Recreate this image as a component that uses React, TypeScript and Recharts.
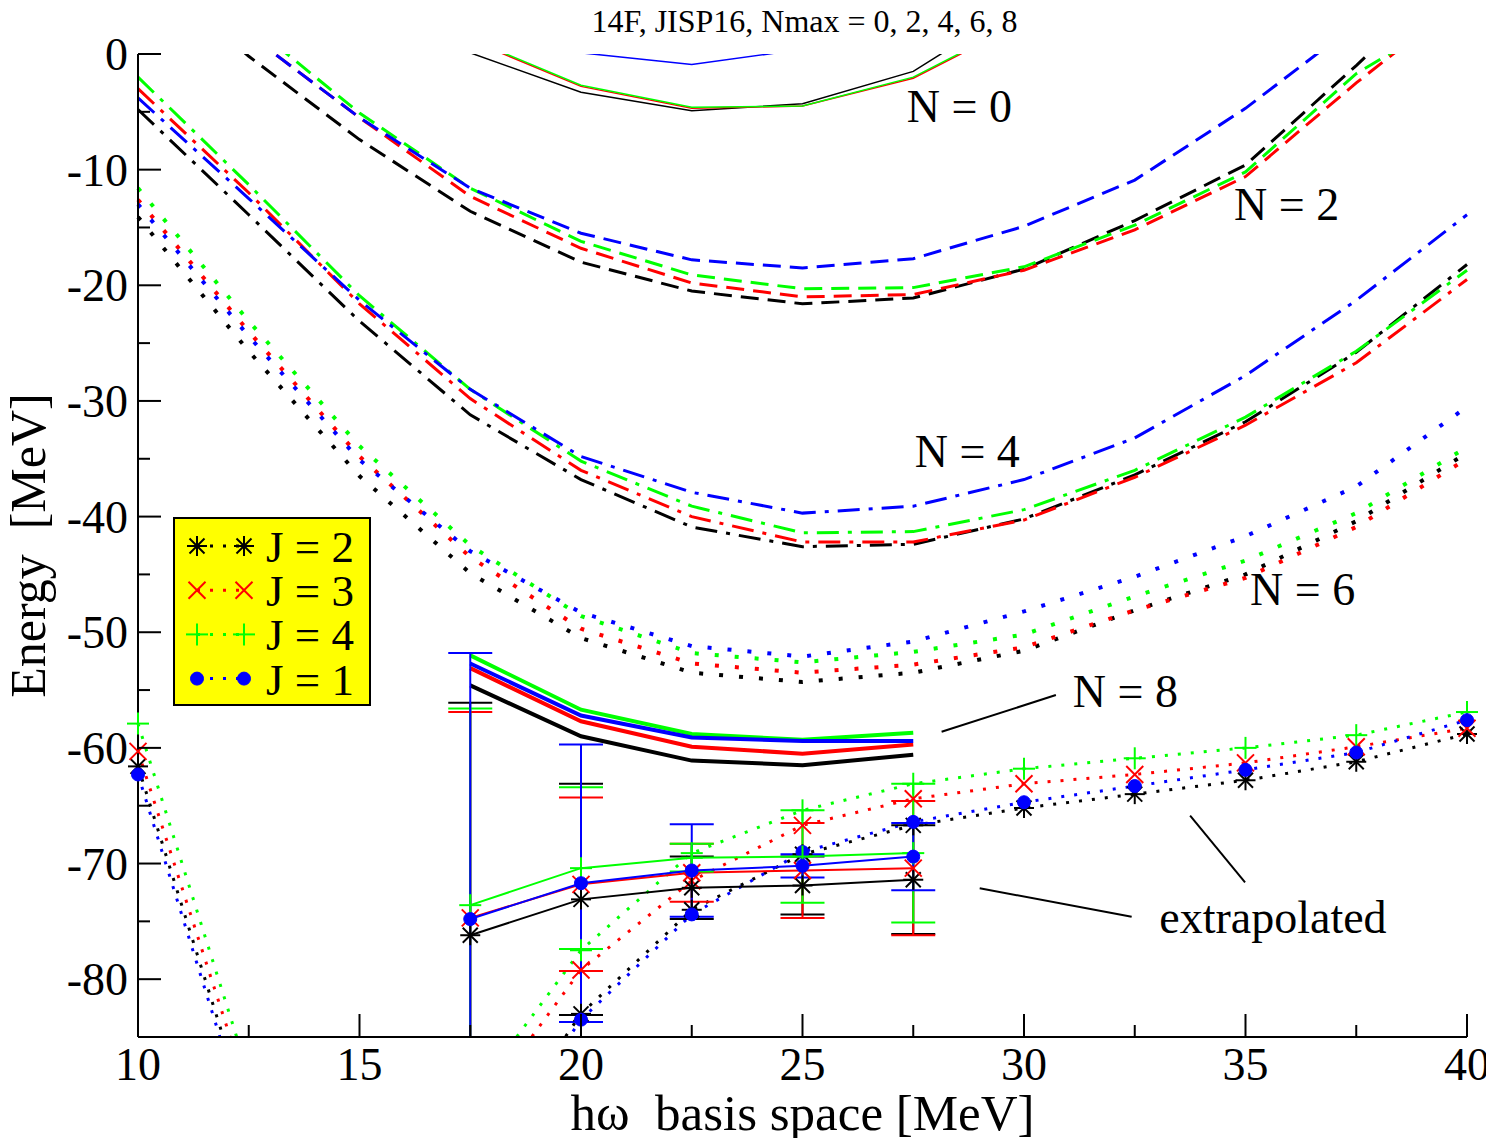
import React from 'react';
import {
  LineChart,
  Line,
  XAxis,
  YAxis,
  ErrorBar,
  ReferenceLine,
  ReferenceDot,
  Legend,
  Customized,
} from 'recharts';

type V = number | null;
const _ = null;

const SERIF = '"Liberation Serif", "Times New Roman", serif';

// hbar-omega grid (MeV)
const hw = [10, 12.5, 15, 17.5, 20, 22.5, 25, 27.5, 30, 32.5, 35, 37.5, 40];
const xTicks = [10, 12.5, 15, 17.5, 20, 22.5, 25, 27.5, 30, 32.5, 35, 37.5, 40];
const yTicks = [-80, -75, -70, -65, -60, -55, -50, -45, -40, -35, -30, -25, -20, -15, -10, -5, 0];

// Nmax = 0
const n0J2: V[] = [_, _, _, 0.1, -3.3, -4.9, -4.3, -1.5, 4.5, _, _, _, _];
const n0J3: V[] = [_, _, _, 1.2, -2.8, -4.7, -4.5, -2.1, 2.8, _, _, _, _];
const n0J4: V[] = [_, _, _, 1.3, -2.7, -4.6, -4.5, -2.0, 2.9, _, _, _, _];
const n0J1: V[] = [_, _, _, 4.0, 0.1, -0.9, 0.4, 4.0, _, _, _, _, _];

// Nmax = 2
const n2J2: V[] = [8.0, -0.2, -7.4, -13.6, -18.0, -20.5, -21.6, -21.1, -18.6, -14.4, -9.6, -1.0, 8.0];
const n2J3: V[] = [11.0, 1.7, -5.5, -12.3, -16.8, -19.8, -21.0, -20.8, -18.7, -15.2, -10.6, -2.5, 5.0];
const n2J4: V[] = [12.0, 2.7, -5.1, -11.6, -16.2, -19.1, -20.3, -20.2, -18.4, -14.8, -10.2, -1.7, 4.0];
const n2J1: V[] = [11.0, 1.7, -5.5, -11.6, -15.5, -17.8, -18.5, -17.7, -14.9, -10.9, -4.7, 2.6, 10.0];

// Nmax = 4
const n4J2: V[] = [-4.8, -13.9, -23.1, -31.2, -36.8, -40.9, -42.6, -42.4, -40.2, -36.4, -31.8, -25.8, -18.2];
const n4J3: V[] = [-3.0, -12.0, -21.6, -29.8, -36.0, -40.0, -42.2, -42.2, -40.3, -36.6, -32.1, -26.7, -19.5];
const n4J4: V[] = [-2.0, -11.3, -20.9, -29.0, -35.2, -39.1, -41.4, -41.3, -39.4, -36.0, -31.4, -25.7, -18.7];
const n4J1: V[] = [-3.8, -12.5, -21.3, -29.0, -34.8, -37.9, -39.7, -39.1, -36.8, -33.2, -27.8, -21.3, -13.9];

// Nmax = 6
const n6J2: V[] = [-14.1, -25.7, -36.5, -44.9, -50.5, -53.5, -54.3, -53.5, -51.6, -48.1, -45.0, -40.4, -34.5];
const n6J3: V[] = [-12.6, -24.0, -34.8, -43.5, -49.7, -52.7, -53.5, -52.8, -51.3, -48.1, -45.3, -40.9, -35.0];
const n6J4: V[] = [-11.6, -23.1, -33.9, -42.5, -48.6, -51.8, -52.6, -51.7, -50.2, -46.9, -43.8, -39.7, -34.0];
const n6J1: V[] = [-13.0, -24.4, -35.1, -43.0, -48.3, -51.2, -52.1, -50.8, -48.2, -45.2, -41.7, -37.4, -30.5];

// Nmax = 8
const n8J2: V[] = [_, _, _, -54.6, -59.0, -61.1, -61.5, -60.6, _, _, _, _, _];
const n8J3: V[] = [_, _, _, -53.1, -57.7, -59.9, -60.5, -59.7, _, _, _, _, _];
const n8J4: V[] = [_, _, _, -52.0, -56.7, -58.8, -59.3, -58.7, _, _, _, _, _];
const n8J1: V[] = [_, _, _, -52.7, -57.2, -59.1, -59.4, -59.4, _, _, _, _, _];

// extrapolated (solid, with error bars)
const exSJ2: V[] = [_, _, _, -76.2, -73.1, -72.1, -71.9, -71.4, _, _, _, _, _];
const exSJ3: V[] = [_, _, _, -74.7, -71.8, -70.8, -70.6, -70.4, _, _, _, _, _];
const exSJ4: V[] = [_, _, _, -73.6, -70.4, -69.5, -69.4, -69.1, _, _, _, _, _];
const exSJ1: V[] = [_, _, _, -74.8, -71.7, -70.6, -70.2, -69.4, _, _, _, _, _];
const errJ2: V[] = [_, _, _, 20.1, 10.0, 2.7, 2.5, 4.7, _, _, _, _, _];
const errJ3: V[] = [_, _, _, 17.8, 7.5, 2.5, 4.1, 5.8, _, _, _, _, _];
const errJ4: V[] = [_, _, _, 17.0, 7.0, 1.2, 4.0, 6.0, _, _, _, _, _];
const errJ1: V[] = [_, _, _, 23.0, 12.0, 4.0, 1.0, 2.9, _, _, _, _, _];

// extrapolated (dotted)
const exDJ2: V[] = [-61.6, -92.0, _, -97.0, -83.0, -74.0, -69.2, -66.7, -65.2, -64.0, -62.8, -61.2, -58.8];
const exDJ3: V[] = [-60.3, -90.0, _, -92.2, -79.2, -71.5, -66.7, -64.4, -63.1, -62.3, -61.3, -59.9, -58.3];
const exDJ4: V[] = [-57.9, -88.3, _, -90.4, -77.5, -69.1, -65.4, -63.1, -61.8, -60.9, -60.0, -58.9, -56.9];
const exDJ1: V[] = [-62.3, -93.0, _, -97.5, -83.5, -74.4, -69.0, -66.4, -64.7, -63.3, -61.9, -60.4, -57.6];

const series: Record<string, V[]> = {
  n0J2, n0J3, n0J4, n0J1,
  n2J2, n2J3, n2J4, n2J1,
  n4J2, n4J3, n4J4, n4J1,
  n6J2, n6J3, n6J4, n6J1,
  n8J2, n8J3, n8J4, n8J1,
  exSJ2, exSJ3, exSJ4, exSJ1,
  errJ2, errJ3, errJ4, errJ1,
  exDJ2, exDJ3, exDJ4, exDJ1,
};

const Y_MIN = -85;
const Y_MAX = 0;

const data = hw.map((x, i) => {
  const row: Record<string, V> = { hw: x };
  Object.keys(series).forEach((k) => {
    const v = series[k][i];
    row[k] = v;
    // marker copies only inside the frame (markers are drawn unclipped)
    row['mk_' + k] = v != null && v >= Y_MIN && v <= Y_MAX ? v : null;
  });
  return row;
});

const jStates = [
  { id: 'J2', label: 'J = 2', color: '#000000', marker: 'star' },
  { id: 'J3', label: 'J = 3', color: '#ff0000', marker: 'cross' },
  { id: 'J4', label: 'J = 4', color: '#00ff00', marker: 'plus' },
  { id: 'J1', label: 'J = 1', color: '#0000ff', marker: 'circle' },
];

const groups = [
  { prefix: 'n6', width: 4, dash: '4 16' },
  { prefix: 'n4', width: 3, dash: '22 9 4 9' },
  { prefix: 'n2', width: 3, dash: '18 9' },
  { prefix: 'n0', width: 1.5, dash: undefined },
  { prefix: 'n8', width: 4, dash: undefined },
  { prefix: 'exD', width: 3, dash: '3 10' },
  { prefix: 'exS', width: 2, dash: undefined, err: true },
];

const notes = [
  { text: 'N = 0', x: 28.54, y: -4.44 },
  { text: 'N = 2', x: 35.93, y: -12.94 },
  { text: 'N = 4', x: 28.72, y: -34.33 },
  { text: 'N = 6', x: 36.29, y: -46.23 },
  { text: 'N = 8', x: 32.29, y: -55.03 },
  { text: 'extrapolated', x: 35.62, y: -74.6 },
];

const pointers = [
  [{ x: 28.14, y: -58.6 }, { x: 30.72, y: -55.43 }],
  [{ x: 29.0, y: -72.14 }, { x: 32.43, y: -74.6 }],
  [{ x: 33.75, y: -65.86 }, { x: 34.99, y: -71.62 }],
];

// layout (chart coords)
const W = 1486;
const H = 1130;
const PLOT_L = 130;
const PLOT_T = 46;
const PLOT_R = 1459;
const PLOT_B = 1029;

function Marker({ cx, cy, kind, color }: { cx: any; cy: any; kind: string; color: string }) {
  if (cx == null || cy == null || Number.isNaN(cx) || Number.isNaN(cy)) return null;
  if (kind === 'circle') {
    return <circle cx={cx} cy={cy} r={6.5} fill={color} stroke={color} strokeWidth={1} />;
  }
  if (kind === 'plus') {
    const a = 11;
    return (
      <g stroke={color} strokeWidth={2}>
        <line x1={cx - a} y1={cy} x2={cx + a} y2={cy} />
        <line x1={cx} y1={cy - a} x2={cx} y2={cy + a} />
      </g>
    );
  }
  if (kind === 'cross') {
    const a = 8.5;
    return (
      <g stroke={color} strokeWidth={2}>
        <line x1={cx - a} y1={cy - a} x2={cx + a} y2={cy + a} />
        <line x1={cx - a} y1={cy + a} x2={cx + a} y2={cy - a} />
      </g>
    );
  }
  const a = 10;
  const d = 7.5;
  return (
    <g stroke={color} strokeWidth={2}>
      <line x1={cx} y1={cy - a} x2={cx} y2={cy + a} />
      <line x1={cx - a} y1={cy} x2={cx + a} y2={cy} />
      <line x1={cx - d} y1={cy - d} x2={cx + d} y2={cy + d} />
      <line x1={cx - d} y1={cy + d} x2={cx + d} y2={cy - d} />
    </g>
  );
}

const BottomTick = (p: any) => {
  const major = p.payload.value % 5 === 0;
  return (
    <g>
      <line x1={p.x} y1={p.y} x2={p.x} y2={p.y - (major ? 23 : 12)} stroke="#000" strokeWidth={2} />
      {major && (
        <text x={p.x} y={p.y + 43} textAnchor="middle" fontSize={46} fontFamily={SERIF} fill="#000">
          {p.payload.value}
        </text>
      )}
    </g>
  );
};

const TopTick = (p: any) => {
  const major = p.payload.value % 5 === 0;
  return <line x1={p.x} y1={p.y} x2={p.x} y2={p.y + (major ? 23 : 12)} stroke="#000" strokeWidth={2} />;
};

const LeftTick = (p: any) => {
  const major = p.payload.value % 10 === 0;
  return (
    <g>
      <line x1={p.x} y1={p.y} x2={p.x + (major ? 23 : 12)} y2={p.y} stroke="#000" strokeWidth={2} />
      {major && (
        <text x={p.x - 10} y={p.y + 16} textAnchor="end" fontSize={46} fontFamily={SERIF} fill="#000">
          {p.payload.value}
        </text>
      )}
    </g>
  );
};

const RightTick = (p: any) => {
  const major = p.payload.value % 10 === 0;
  return <line x1={p.x} y1={p.y} x2={p.x - (major ? 23 : 12)} y2={p.y} stroke="#000" strokeWidth={2} />;
};

const LegendBox = () => (
  <svg width={198} height={189} style={{ display: 'block' }}>
    <rect x={1} y={1} width={196} height={187} fill="#ffff00" stroke="#000" strokeWidth={2} />
    {jStates.map((j, i) => {
      const cy = 29 + i * 44.2;
      return (
        <g key={j.id}>
          <line x1={24} y1={cy} x2={71} y2={cy} stroke={j.color} strokeWidth={3} strokeDasharray="3 10" />
          <Marker cx={24} cy={cy} kind={j.marker} color={j.color} />
          <Marker cx={71} cy={cy} kind={j.marker} color={j.color} />
          <text x={93} y={cy + 16} fontSize={45} fontFamily={SERIF} fill="#000">
            {j.label}
          </text>
        </g>
      );
    })}
  </svg>
);

const Texts = () => (
  <g fontFamily={SERIF} fill="#000">
    <defs>
      <clipPath id="plot-frame-clip">
        <rect x={PLOT_L} y={PLOT_T} width={PLOT_R - PLOT_L} height={PLOT_B - PLOT_T} />
      </clipPath>
    </defs>
    <text x={(PLOT_L + PLOT_R) / 2 + 2} y={24} textAnchor="middle" fontSize={32}>
      14F, JISP16, Nmax = 0, 2, 4, 6, 8
    </text>
    <text x={(PLOT_L + PLOT_R) / 2} y={1122} textAnchor="middle" fontSize={51} style={{ whiteSpace: 'pre' }}>
      {'hω  basis space [MeV]'}
    </text>
    <text
      x={37}
      y={(PLOT_T + PLOT_B) / 2}
      textAnchor="middle"
      fontSize={50}
      transform={`rotate(-90, 37, ${(PLOT_T + PLOT_B) / 2})`}
      style={{ whiteSpace: 'pre' }}
    >
      {'Energy  [MeV]'}
    </text>
  </g>
);

export default function App() {
  return (
    <LineChart
      width={W}
      height={H}
      data={data}
      margin={{ top: PLOT_T, right: W - PLOT_R, bottom: 0, left: 0 }}
    >
      <XAxis
        xAxisId="x"
        dataKey="hw"
        type="number"
        domain={[10, 40]}
        ticks={xTicks}
        interval={0}
        height={H - PLOT_B}
        tickLine={false}
        tickSize={0}
        tickMargin={0}
        axisLine={{ stroke: '#000', strokeWidth: 2 }}
        tick={BottomTick}
      />
      <XAxis
        xAxisId="top"
        orientation="top"
        type="number"
        domain={[10, 40]}
        allowDataOverflow
        ticks={xTicks}
        interval={0}
        height={0}
        tickLine={false}
        tickSize={0}
        tickMargin={0}
        axisLine={{ stroke: '#000', strokeWidth: 2 }}
        tick={TopTick}
      />
      <YAxis
        yAxisId="main"
        type="number"
        domain={[Y_MIN, Y_MAX]}
        allowDataOverflow
        ticks={yTicks}
        interval={0}
        width={PLOT_L}
        tickLine={false}
        tickSize={0}
        tickMargin={0}
        axisLine={{ stroke: '#000', strokeWidth: 2 }}
        tick={LeftTick}
      />
      <YAxis
        yAxisId="right"
        orientation="right"
        type="number"
        domain={[Y_MIN, Y_MAX]}
        allowDataOverflow
        ticks={yTicks}
        interval={0}
        width={0}
        tickLine={false}
        tickSize={0}
        tickMargin={0}
        axisLine={{ stroke: '#000', strokeWidth: 2 }}
        tick={RightTick}
      />
      <YAxis yAxisId="mk" type="number" domain={[Y_MIN, Y_MAX]} hide />

      <Customized component={<Texts />} />

      {groups.map((g) =>
        jStates.map((j) => (
          <Line
            key={g.prefix + j.id}
            xAxisId="x"
            yAxisId="main"
            type="linear"
            dataKey={g.prefix + j.id}
            stroke={j.color}
            strokeWidth={g.width}
            strokeDasharray={g.dash}
            dot={false}
            activeDot={false}
            legendType="none"
            isAnimationActive={false}
          >
            {g.err ? (
              <ErrorBar
                dataKey={'err' + j.id}
                width={22}
                stroke={j.color}
                strokeWidth={2}
                direction="y"
                clipPath="url(#plot-frame-clip)"
              />
            ) : null}
          </Line>
        ))
      )}

      {['exD', 'exS'].map((p) =>
        jStates.map((j) => (
          <Line
            key={'mk' + p + j.id}
            xAxisId="x"
            yAxisId="mk"
            type="linear"
            dataKey={'mk_' + p + j.id}
            stroke="none"
            strokeWidth={0}
            dot={(d: any) => (
              <Marker key={'m' + p + j.id + d.index} cx={d.cx} cy={d.cy} kind={j.marker} color={j.color} />
            )}
            activeDot={false}
            legendType="none"
            isAnimationActive={false}
          />
        ))
      )}

      {pointers.map((seg, i) => (
        <ReferenceLine
          key={'ptr' + i}
          xAxisId="x"
          yAxisId="main"
          segment={seg}
          stroke="#000"
          strokeWidth={2}
          ifOverflow="visible"
        />
      ))}

      {notes.map((n) => (
        <ReferenceDot
          key={n.text}
          xAxisId="x"
          yAxisId="main"
          x={n.x}
          y={n.y}
          r={0}
          fill="none"
          stroke="none"
          label={{ value: n.text, position: 'center', fontSize: 46, fontFamily: SERIF, fill: '#000' }}
        />
      ))}

      <Legend
        content={() => <LegendBox />}
        layout="vertical"
        align="center"
        verticalAlign="middle"
        wrapperStyle={{ left: 164.7, top: 508.7, width: 198, height: 189 }}
      />
    </LineChart>
  );
}
